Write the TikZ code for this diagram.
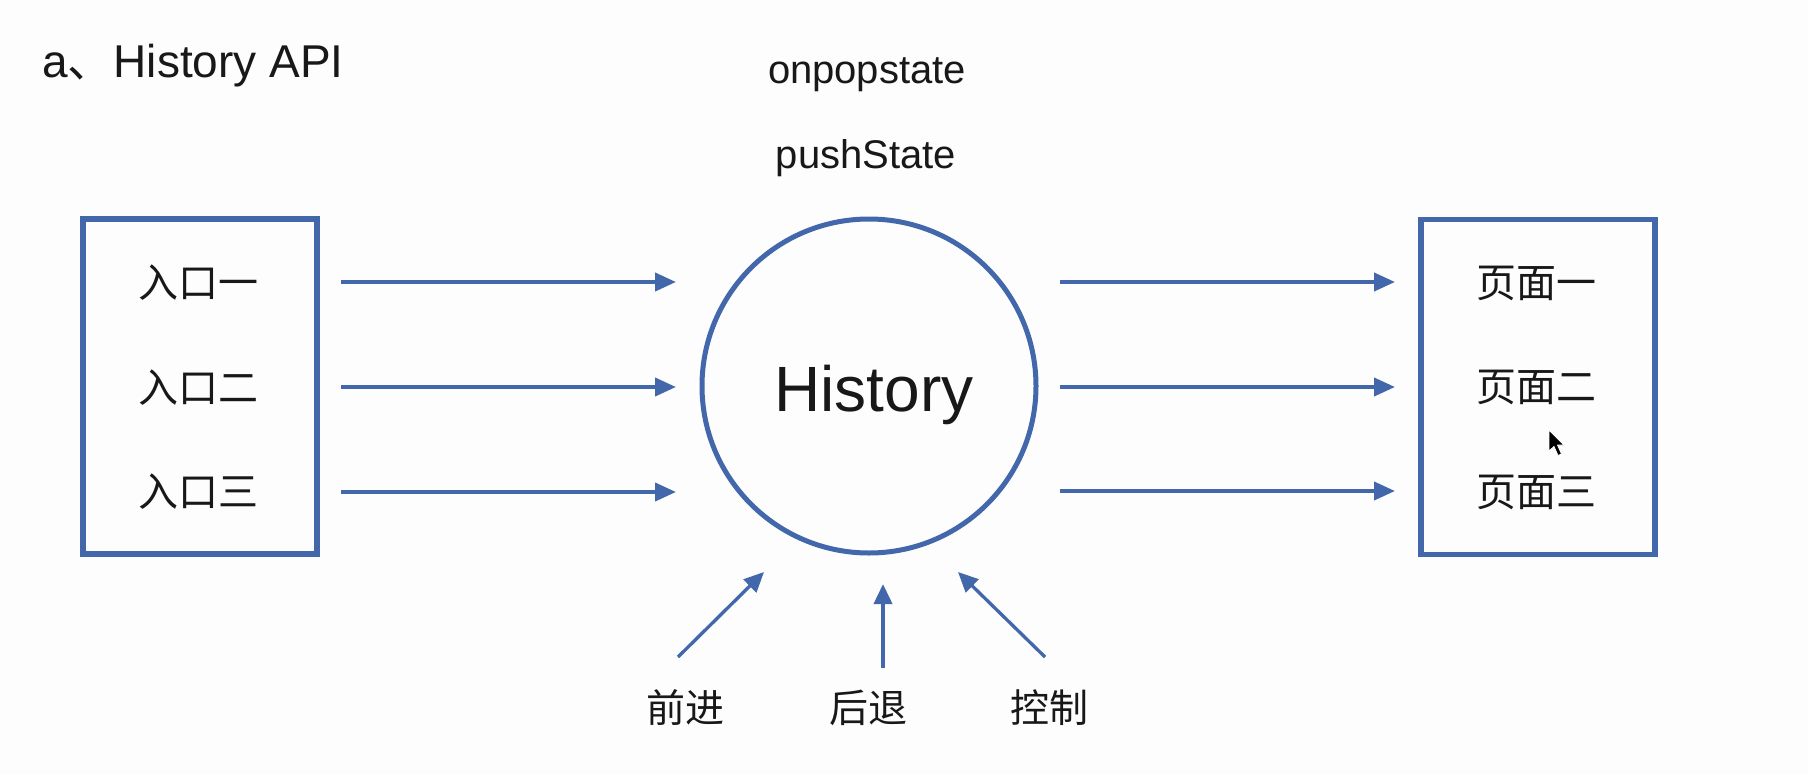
\documentclass[tikz,border=0pt]{standalone}
\usepackage{fontspec}
\setmainfont{Liberation Sans}
\newfontfamily\cjk{Noto Sans CJK SC}
\usetikzlibrary{arrows.meta}
\definecolor{hblue}{RGB}{66,103,170}
\definecolor{ink}{RGB}{24,24,24}
\definecolor{bg}{RGB}{253,253,253}
\tikzset{
  frame/.style={draw=hblue, line width=5.5pt, rectangle, minimum width=234pt, minimum height=335pt, inner sep=0pt},
  hcircle/.style={draw=hblue, line width=5pt, circle, minimum size=334pt, inner sep=0pt},
  cjklabel/.style={text=ink, inner sep=0pt, font=\cjk\fontsize{40}{48}\selectfont},
  botlabel/.style={text=ink, inner sep=0pt, font=\cjk\fontsize{39}{46}\selectfont},
  latin/.style={text=ink, inner sep=0pt, anchor=base},
  harr/.style={draw=hblue, line width=4pt, -{Triangle[length=21pt,width=18pt]}},
  barr/.style={draw=hblue, line width=3.3pt, -{Triangle[length=20pt,width=18pt]}},
}
\begin{document}
\begin{tikzpicture}[x=1pt,y=-1pt]
\fill[bg] (0,0) rectangle (1808,774);
\useasboundingbox (0,0) rectangle (1808,774);

% title
\node[latin, anchor=base west, font=\fontsize{46}{54}\selectfont] (title) at (42,77) {a{\cjk 、}History API};

% method labels
\node[latin, font=\fontsize{40}{48}\selectfont] (pop) at (867,83) {onpopstate};
\node[latin, font=\fontsize{40}{48}\selectfont] (push) at (866,168) {pushState};

% boxes and circle
\node[frame] (L) at (200,386.5) {};
\node[frame] (R) at (1538,387) {};
\node[hcircle] (H) at (869,386) {};
\node[latin, font=\fontsize{64}{72}\selectfont] (Ht) at (874,411) {History};

% left labels
\node[cjklabel] (l1) at (198,283) {入口一};
\node[cjklabel] (l2) at (198,388) {入口二};
\node[cjklabel] (l3) at (198,492) {入口三};

% right labels
\node[cjklabel] (r1) at (1536,283) {页面一};
\node[cjklabel] (r2) at (1536,387) {页面二};
\node[cjklabel] (r3) at (1536,492) {页面三};

% horizontal arrows
\coordinate (la1) at (341,282); \coordinate (lb1) at (676,282);
\coordinate (la2) at (341,387); \coordinate (lb2) at (676,387);
\coordinate (la3) at (341,492); \coordinate (lb3) at (676,492);
\coordinate (ra1) at (1060,282); \coordinate (rb1) at (1395,282);
\coordinate (ra2) at (1060,387); \coordinate (rb2) at (1395,387);
\coordinate (ra3) at (1060,491); \coordinate (rb3) at (1395,491);
\draw[harr] (la1) -- (lb1);
\draw[harr] (la2) -- (lb2);
\draw[harr] (la3) -- (lb3);
\draw[harr] (ra1) -- (rb1);
\draw[harr] (ra2) -- (rb2);
\draw[harr] (ra3) -- (rb3);

% bottom labels
\node[botlabel] (fw) at (685,708) {前进};
\node[botlabel] (bk) at (868,708) {后退};
\node[botlabel] (ct) at (1049,708) {控制};

% bottom arrows
\coordinate (fw0) at (678,657); \coordinate (fw1) at (764,572);
\coordinate (bk0) at (883,668); \coordinate (bk1) at (883,584);
\coordinate (ct0) at (1045,657); \coordinate (ct1) at (958,572);
\draw[barr] (fw0) -- (fw1);
\draw[barr, line width=3.8pt] (bk0) -- (bk1);
\draw[barr] (ct0) -- (ct1);

% mouse pointer
\filldraw[fill=black, draw=white, line width=0.8pt, line join=round]
  (1549,430) -- (1549,451) -- (1554,446.5) -- (1558,455.5) -- (1561.5,454) -- (1557.5,445) -- (1564,445) -- cycle;
\end{tikzpicture}
\end{document}
